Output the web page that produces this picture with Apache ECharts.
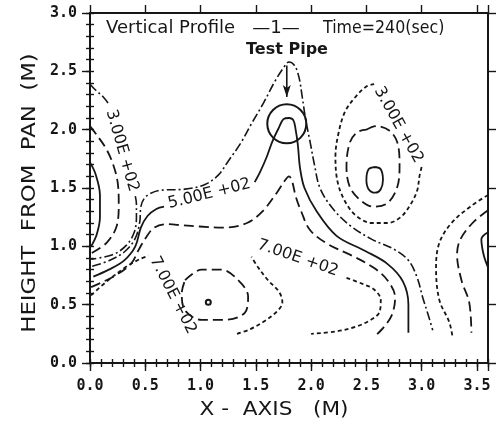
<!DOCTYPE html>
<html><head><meta charset="utf-8">
<script src="https://cdn.jsdelivr.net/npm/echarts@6/dist/echarts.min.js"></script>
<style>html,body{margin:0;padding:0;background:#fff}#c{width:503px;height:428px}</style>
</head><body><div id="c"></div>
<script>
// ---- tick labels ----
const xTicks = ['0.0','0.5','1.0','1.5','2.0','2.5','3.0','3.5'];
const yTicks = ['0.0','0.5','1.0','1.5','2.0','2.5','3.0'];

// ---- contour lines, [x (m), height (m)] ----
const curveA = [[0,1.72],[0.05,1.62],[0.09,1.44],[0.09,1.25],[0.06,1.10],[0.01,1.00]];
const curveB = [[0,2.03],[0.08,1.93],[0.15,1.83],[0.21,1.70],[0.25,1.55],[0.26,1.36],[0.24,1.17],[0.15,1.03],[0.01,0.94]];
const c300LeftHead = [[0,2.39],[0.05,2.34],[0.12,2.28],[0.17,2.22]];
const c300LeftTail = [[0.41,1.43],[0.42,1.36],[0.42,1.25],[0.40,1.12],[0.33,1.01],[0.21,0.93],[0.01,0.89]];
const c300Main = [[0.02,0.83],[0.18,0.88],[0.32,0.96],[0.41,1.07],[0.45,1.21],[0.46,1.34],[0.49,1.41],[0.54,1.45],[0.63,1.48],[0.86,1.49],[1.04,1.53],[1.16,1.61],[1.25,1.73],[1.36,1.88],[1.46,2.05],[1.57,2.23],[1.67,2.41],[1.75,2.53],[1.80,2.58],[1.85,2.55],[1.89,2.45],[1.92,2.28],[1.95,2.09],[1.99,1.90],[2.03,1.70],[2.08,1.50],[2.19,1.33],[2.35,1.18],[2.55,1.06],[2.74,0.98],[2.88,0.88],[2.96,0.73],[3.01,0.56],[3.06,0.41],[3.10,0.28]];
const c500Left = [[0.03,0.74],[0.17,0.80],[0.31,0.88],[0.41,1.00],[0.46,1.16],[0.52,1.26],[0.60,1.32],[0.67,1.34]];
const c500Right = [[1.49,1.55],[1.54,1.64],[1.60,1.77],[1.65,1.90],[1.71,2.02],[1.75,2.09],[1.80,2.10],[1.84,2.08],[1.86,2.00],[1.88,1.87],[1.90,1.67],[1.94,1.50],[2.05,1.30],[2.23,1.09],[2.49,0.96],[2.69,0.85],[2.83,0.70],[2.88,0.50],[2.88,0.26]];
const c600 = [[0.01,0.65],[0.21,0.74],[0.37,0.85],[0.44,0.97],[0.51,1.08],[0.58,1.16],[0.69,1.19],[0.84,1.18],[0.99,1.17],[1.20,1.16],[1.42,1.20],[1.56,1.30],[1.69,1.46],[1.76,1.56],[1.80,1.60],[1.83,1.55],[1.86,1.43],[1.91,1.30],[1.99,1.14],[2.15,1.02],[2.37,0.92],[2.56,0.82],[2.69,0.71],[2.76,0.56],[2.73,0.41],[2.66,0.31],[2.59,0.24]];
const c700Left = [[0.01,0.58],[0.14,0.69],[0.32,0.82],[0.45,0.89],[0.53,0.92]];
const c700MidA = [[1.33,0.25],[1.45,0.29],[1.58,0.36],[1.70,0.45],[1.74,0.52],[1.71,0.61],[1.61,0.71],[1.52,0.82],[1.46,0.91]];
const c700MidB = [[2.32,0.73],[2.46,0.68],[2.57,0.63],[2.63,0.54],[2.62,0.44],[2.54,0.37],[2.40,0.31],[2.22,0.27],[2.00,0.25]];
const loop800 = [[0.86,0.71],[1.01,0.80],[1.19,0.80],[1.34,0.71],[1.43,0.57],[1.40,0.43],[1.22,0.37],[1.01,0.37],[0.86,0.45],[0.83,0.60],[0.86,0.71]];
const rightOuter = [[3.00,1.68],[2.98,1.60],[2.96,1.48],[2.90,1.36],[2.81,1.25],[2.69,1.20],[2.55,1.20],[2.41,1.26],[2.31,1.38],[2.24,1.55],[2.22,1.77],[2.25,1.98],[2.31,2.16],[2.41,2.29],[2.50,2.37],[2.57,2.39]];
const rightMiddle = [[2.50,2.00],[2.59,2.03],[2.71,1.99],[2.78,1.89],[2.80,1.70],[2.78,1.51],[2.69,1.37],[2.56,1.34],[2.44,1.40],[2.35,1.51],[2.32,1.68],[2.35,1.89],[2.42,1.98],[2.50,2.00]];
const rightInner = [[2.58,1.68],[2.63,1.66],[2.65,1.57],[2.63,1.49],[2.58,1.46],[2.52,1.49],[2.50,1.57],[2.52,1.66],[2.58,1.68]];
const edgeShort = [[3.60,1.44],[3.44,1.34],[3.27,1.20],[3.16,1.03],[3.13,0.82],[3.16,0.54],[3.25,0.35],[3.28,0.22]];
const edgeLong = [[3.60,1.31],[3.46,1.20],[3.35,1.06],[3.32,0.93],[3.36,0.71],[3.43,0.52],[3.45,0.26]];
const edgeSolid = [[3.60,1.12],[3.54,1.06],[3.56,0.93],[3.60,0.82]];

// contour labels: text and anchor [x, height]
const labelTexts = ['3.00E +02','5.00E +02','7.00E +02','7.00E +02','3.00E +02'];
const labelPoints = [[0.29,1.82],[1.08,1.45],[0.75,0.58],[1.88,0.90],[2.79,2.04]];
const labelAngles = [-74, 14, -63, -19, -61];

// test pipe marker and arrow, centre dot of the small loop
const pipeCentre = [1.78, 2.05];
const arrowPath = [[1.78,2.55],[1.78,2.28]];
const loopCentre = [1.07, 0.52];

// ---- styles ----
const INK = '#161616';
const styles = {
  solid:     {type:'solid', width:1.8, color:INK},
  longDash:  {type:[10,5], width:1.8, color:INK},
  dashDot:   {type:[9,3,2,3], width:1.6, color:INK},
  shortDash: {type:[4,3], width:1.8, color:INK}
};
const curves = [
  [curveA,'solid'],[curveB,'longDash'],
  [c300LeftHead,'dashDot'],[c300LeftTail,'dashDot'],[c300Main,'dashDot'],
  [c500Left,'solid'],[c500Right,'solid'],
  [c600,'longDash'],
  [c700Left,'shortDash'],[c700MidA,'shortDash'],[c700MidB,'shortDash'],
  [loop800,'longDash'],
  [rightOuter,'shortDash'],[rightMiddle,'longDash'],[rightInner,'solid'],
  [edgeShort,'shortDash'],[edgeLong,'longDash'],[edgeSolid,'solid']
];

const series = curves.map(([d, s]) => ({
  type:'line', data:d, smooth:0.35, symbol:'none', silent:true,
  lineStyle: styles[s], z:3, animation:false
}));

series.push({
  type:'scatter', silent:true, animation:false, z:4,
  data: labelPoints.map((p,i)=>({value:p, label:{rotate:labelAngles[i], formatter:labelTexts[i]}})),
  symbolSize:0, itemStyle:{color:'rgba(0,0,0,0)', opacity:1},
  label:{show:true, position:'inside', align:'center', verticalAlign:'middle',
    fontFamily:'DejaVu Sans', fontSize:16, color:INK, opacity:1}
});
series.push({
  type:'scatter', silent:true, animation:false, z:5,
  data:[{value:pipeCentre, symbolSize:39},{value:loopCentre, symbolSize:5}],
  symbol:'circle',
  itemStyle:{color:'rgba(0,0,0,0)', borderColor:INK, borderWidth:2, opacity:1}
});
series.push({
  type:'line', silent:true, animation:false, z:5,
  data:[{value:arrowPath[0], symbol:'none'},{value:arrowPath[1], symbol:'arrow', symbolRotate:180, symbolSize:[6,12]}],
  showSymbol:true, lineStyle:{color:INK, width:1.6}, itemStyle:{color:INK}
});

function fmt(ticks, step){
  return v => { const i = Math.round(v/step); return (Math.abs(v-i*step)<1e-6 && i < ticks.length) ? ticks[i] : ''; };
}
const axLine = {show:true, onZero:false, lineStyle:{color:INK, width:2}};
const noLine = {show:false};
const lab = {fontFamily:'DejaVu Sans Mono', fontWeight:'bold', fontSize:15, color:INK};
function xAx(pos, major, labels){
  return {type:'value', min:0, max:3.6, interval: major?0.5:0.1, position:pos,
    axisLine: major?axLine:noLine,
    axisTick:{show:true, inside:false, length: major?8:4, lineStyle:{color:INK, width:1.4}},
    splitLine:{show:false},
    axisLabel: labels ? Object.assign({formatter:fmt(xTicks,0.5), margin:16}, lab) : {show:false}};
}
function yAx(pos, major, labels){
  return {type:'value', min:0, max:3.0, interval: major?0.5:0.1, position:pos,
    axisLine: major?axLine:noLine,
    axisTick:{show:true, inside:false, length: major?8:4, lineStyle:{color:INK, width:1.4}},
    splitLine:{show:false},
    axisLabel: labels ? Object.assign({formatter:fmt(yTicks,0.5), margin:13}, lab) : {show:false}};
}

const txt = (extra, style) => Object.assign({type:'text', silent:true, style:Object.assign({
  fill:INK, fontFamily:'DejaVu Sans', fontSize:18, textVerticalAlign:'middle', verticalAlign:'middle'}, style)}, extra);

const chart = echarts.init(document.getElementById('c'), null, {renderer:'canvas'});
chart.setOption({
  animation:false,
  backgroundColor:'#fff',
  grid:{left:90, right:15, top:13, bottom:65, containLabel:false},
  xAxis:[xAx('bottom',true,true), xAx('bottom',false,false), xAx('top',true,false), xAx('top',false,false)],
  yAxis:[yAx('left',true,true), yAx('left',false,false), yAx('right',true,false), yAx('right',false,false)],
  series: series,
  graphic:[
    txt({x:106, y:28}, {text:'Vertical Profile', textAlign:'left'}),
    txt({x:276, y:28}, {text:'—1—', textAlign:'center'}),
    txt({x:323, y:28, scaleX:0.88}, {text:'Time=240(sec)', textAlign:'left'}),
    txt({x:287, y:50}, {text:'Test Pipe', textAlign:'center', fontWeight:'bold', fontSize:16}),
    txt({x:30, y:193, rotation:Math.PI/2, scaleX:1.14}, {text:'HEIGHT  FROM  PAN  (M)', textAlign:'center', fontSize:20}),
    txt({x:274, y:410, scaleX:1.08}, {text:'X -  AXIS   (M)', textAlign:'center', fontSize:20})
  ]
});
</script>
</body></html>
